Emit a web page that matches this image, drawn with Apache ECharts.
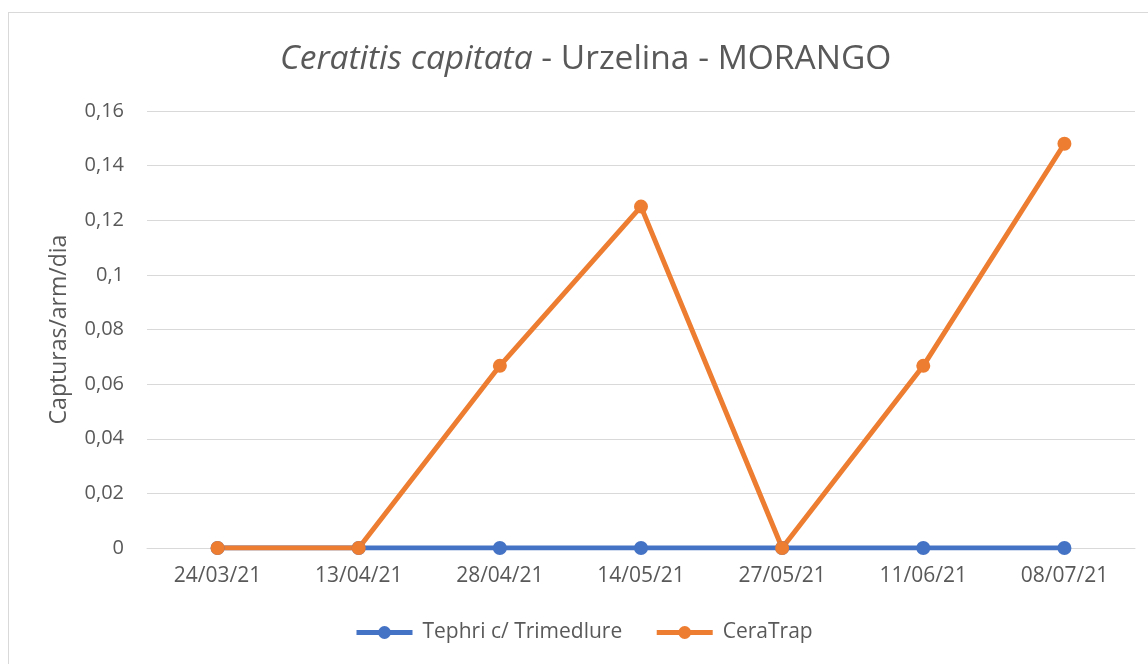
<!DOCTYPE html>
<html>
<head>
<meta charset="utf-8">
<script src="https://cdn.jsdelivr.net/npm/echarts@6/dist/echarts.min.js"></script>
<style>
  html, body { margin: 0; padding: 0; background: #fff; }
  #chart { position: absolute; left: 0; top: 0; width: 1148px; height: 664px; }
  #frame { position: absolute; left: 8px; top: 12px; width: 1160px; height: 680px; border: 1px solid #d9d9d9; box-sizing: border-box; }
</style>
</head>
<body>
<div id="frame"></div>
<div id="chart"></div>
<script>
// dados
const datas = ['24/03/21', '13/04/21', '28/04/21', '14/05/21', '27/05/21', '11/06/21', '08/07/21']
const tephri = [0, 0, 0, 0, 0, 0, 0]
const ceraTrap = [0, 0, 0.0667, 0.125, 0, 0.0667, 0.148]

const fonte = '"Open Sans", "Noto Sans", sans-serif'
const cinza = '#595959'

let chart = echarts.init(document.getElementById('chart'))
chart.setOption({
    animation: false,
    title: {
        left: 275,
        top: 37,
        text: '{i|Ceratitis capitata}{n| - Urzelina - MORANGO}',
        textStyle: {
            rich: {
                i: { fontFamily: fonte, fontStyle: 'italic', fontWeight: 'normal', fontSize: 33.5, color: cinza },
                n: { fontFamily: fonte, fontWeight: 'normal', fontSize: 33.5, color: cinza }
            }
        }
    },
    grid: {
        left: 147,
        right: 13,
        top: 111,
        bottom: 116
    },
    legend: {
        bottom: 16,
        left: 349,
        itemWidth: 56,
        itemHeight: 16,
        itemGap: 32,
        lineStyle: { width: 5 },
        textStyle: { color: cinza, fontSize: 21, fontFamily: fonte, padding: [0, 0, 0, 5] },
        data: ['Tephri c/ Trimedlure', 'CeraTrap']
    },
    xAxis: {
        type: 'category',
        data: datas,
        boundaryGap: true,
        axisLine: { lineStyle: { color: '#d9d9d9', width: 1 } },
        axisTick: { show: false },
        axisLabel: { color: cinza, fontSize: 21, fontFamily: fonte, margin: 18 }
    },
    yAxis: {
        type: 'value',
        min: 0,
        max: 0.16,
        interval: 0.02,
        name: 'Capturas/arm/dia',
        nameLocation: 'middle',
        nameGap: 76,
        nameTextStyle: { color: cinza, fontSize: 23, fontFamily: fonte },
        axisLine: { show: false },
        axisTick: { show: false },
        splitLine: { lineStyle: { color: '#d9d9d9', width: 1 } },
        axisLabel: {
            color: cinza,
            fontSize: 20,
            fontFamily: fonte,
            margin: 23,
            formatter: function (v) {
                return String(+v.toFixed(2)).replace('.', ',')
            }
        }
    },
    series: [
        {
            name: 'Tephri c/ Trimedlure',
            type: 'line',
            data: tephri,
            symbol: 'circle',
            symbolSize: 14,
            showAllSymbol: true,
            color: '#4472C4',
            lineStyle: { width: 5, color: '#4472C4' },
            itemStyle: { color: '#4472C4' }
        },
        {
            name: 'CeraTrap',
            type: 'line',
            data: ceraTrap,
            symbol: 'circle',
            symbolSize: 14,
            showAllSymbol: true,
            color: '#ED7D31',
            lineStyle: { width: 5, color: '#ED7D31' },
            itemStyle: { color: '#ED7D31' }
        }
    ]
})
</script>
</body>
</html>
